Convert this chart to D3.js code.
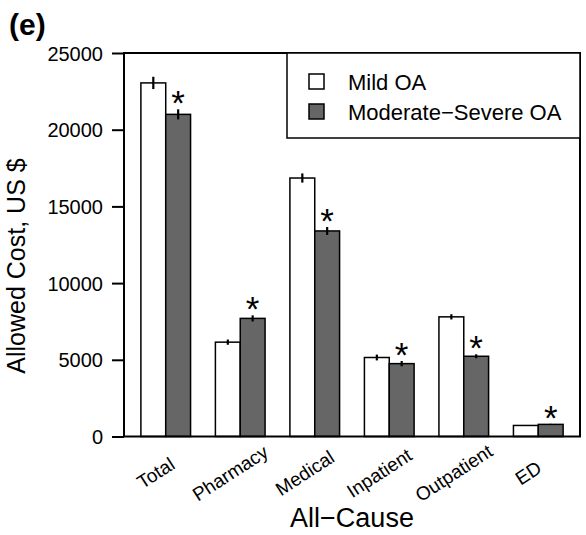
<!DOCTYPE html>
<html>
<head>
<meta charset="utf-8">
<script src="https://cdn.jsdelivr.net/npm/d3@7"></script>
<style>
  body { margin: 0; background: #fff; }
  text { font-family: "Liberation Sans", Arial, sans-serif; fill: #000; }
</style>
</head>
<body>
<div id="chart"></div>
<script>
const categories = ["Total", "Pharmacy", "Medical", "Inpatient", "Outpatient", "ED"];
const seriesNames = ["Mild OA", "Moderate\u2212Severe OA"];
const mildCost = [23050, 6150, 16850, 5150, 7800, 720];
const severeCost = [21000, 7700, 13400, 4750, 5230, 790];
const mildErr = [400, 170, 300, 190, 170, 30];
const severeErr = [330, 200, 260, 170, 130, 35];
const significant = [true, true, true, true, true, true];
const yTicks = [0, 5000, 10000, 15000, 20000, 25000];

const W = 586, H = 535;
const plot = {left: 124, right: 580, top: 53, bottom: 436.5};

const svg = d3.select("#chart").append("svg")
    .attr("width", W)
    .attr("height", H);

// bar positions in bar-width units, R barplot style (space 1 between groups)
const x = d3.scaleLinear()
    .domain([1 - 0.68, 3 * categories.length + 0.68])
    .range([plot.left, plot.right]);

const y = d3.scaleLinear()
    .domain([0, 25000])
    .range([plot.bottom, plot.top]);

const bars = [];
categories.forEach((c, i) => {
    bars.push({cat: c, s: 0, x0: 1 + i * 3, v: mildCost[i], e: mildErr[i], sig: false});
    bars.push({cat: c, s: 1, x0: 2 + i * 3, v: severeCost[i], e: severeErr[i], sig: significant[i]});
});
const fills = ["#ffffff", "#666666"];

svg.selectAll(".bar")
    .data(bars)
    .enter()
    .append("rect")
    .attr("class", "bar")
    .attr("x", d => x(d.x0))
    .attr("y", d => y(d.v))
    .attr("width", d => x(d.x0 + 1) - x(d.x0))
    .attr("height", d => y(0) - y(d.v))
    .attr("fill", d => fills[d.s])
    .attr("stroke", "#000")
    .attr("stroke-width", 1.5);

svg.selectAll(".err")
    .data(bars)
    .enter()
    .append("line")
    .attr("class", "err")
    .attr("x1", d => x(d.x0 + 0.5))
    .attr("x2", d => x(d.x0 + 0.5))
    .attr("y1", d => y(d.v - d.e))
    .attr("y2", d => y(d.v + d.e))
    .attr("stroke", "#000")
    .attr("stroke-width", 2.2);

svg.selectAll(".star")
    .data(bars.filter(d => d.sig))
    .enter()
    .append("text")
    .attr("class", "star")
    .attr("x", d => x(d.x0 + 0.5))
    .attr("y", d => y(d.v + d.e) + 6)
    .attr("text-anchor", "middle")
    .style("font-size", "35px")
    .text("*");

// axis + box
const yAxis = svg.append("g")
    .attr("transform", `translate(${plot.left},0)`)
    .call(d3.axisLeft(y).tickValues(yTicks).tickSize(12).tickPadding(9).tickFormat(d3.format("d")));
yAxis.select(".domain").remove();
yAxis.selectAll(".tick line").attr("stroke", "#000").attr("stroke-width", 2);
yAxis.selectAll(".tick text").style("font-size", "20px").attr("dy", "0.35em");

svg.append("rect")
    .attr("x", plot.left)
    .attr("y", plot.top)
    .attr("width", plot.right - plot.left)
    .attr("height", plot.bottom - plot.top)
    .attr("fill", "none")
    .attr("stroke", "#000")
    .attr("stroke-width", 2);

// category labels, centred under each group and turned
svg.selectAll(".cat")
    .data(categories)
    .enter()
    .append("text")
    .attr("class", "cat")
    .attr("transform", (d, i) => `translate(${x(2 + i * 3) - 10},473) rotate(-33)`)
    .attr("text-anchor", "middle")
    .attr("dy", "0.35em")
    .style("font-size", "19px")
    .text(d => d);

svg.append("text")
    .attr("x", (plot.left + plot.right) / 2)
    .attr("y", 527)
    .attr("text-anchor", "middle")
    .style("font-size", "27px")
    .text("All\u2212Cause");

svg.append("text")
    .attr("transform", `translate(25,266) rotate(-90)`)
    .attr("text-anchor", "middle")
    .style("font-size", "25px")
    .text("Allowed Cost, US $");

svg.append("text")
    .attr("x", 9)
    .attr("y", 35)
    .style("font-size", "30px")
    .style("font-weight", "bold")
    .text("(e)");

// legend
const legend = svg.append("g");
legend.append("rect")
    .attr("x", 287)
    .attr("y", plot.top)
    .attr("width", plot.right - 287)
    .attr("height", 85)
    .attr("fill", "#fff")
    .attr("stroke", "#000")
    .attr("stroke-width", 1.5);

const items = legend.selectAll(".item")
    .data(seriesNames)
    .enter()
    .append("g")
    .attr("transform", (d, i) => `translate(309,${74 + i * 30})`);
items.append("rect")
    .attr("width", 15)
    .attr("height", 15)
    .attr("fill", (d, i) => fills[i])
    .attr("stroke", "#000")
    .attr("stroke-width", 1.5);
items.append("text")
    .attr("x", 39)
    .attr("y", 8)
    .attr("dy", "0.36em")
    .style("font-size", "22px")
    .text(d => d);
</script>
</body>
</html>
